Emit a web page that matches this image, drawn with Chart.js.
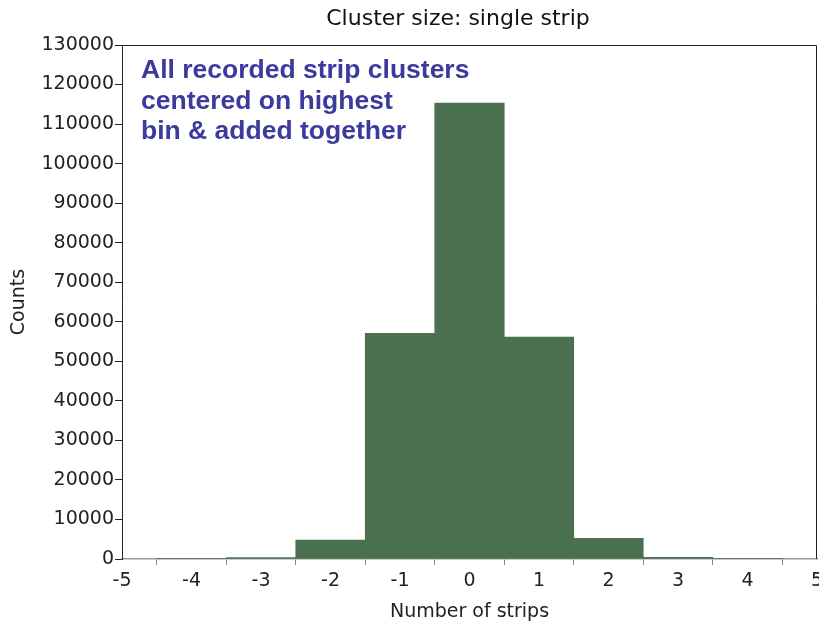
<!DOCTYPE html>
<html>
<head>
<meta charset="utf-8">
<script src="https://cdn.jsdelivr.net/npm/chart.js@4/dist/chart.umd.min.js"></script>
<style>
  html, body { margin: 0; padding: 0; background: #fff; }
  #wrap { width: 819px; height: 623px; }
</style>
</head>
<body>
<div id="wrap"><canvas id="hist"></canvas></div>
<script>
// Data
const binCenters = [-4, -3, -2, -1, 0, 1, 2, 3, 4];
const counts = [60, 350, 4800, 57100, 115300, 56100, 5200, 450, 80];
const yTicks = [0, 10000, 20000, 30000, 40000, 50000, 60000, 70000, 80000, 90000, 100000, 110000, 120000, 130000];
const xTicks = [-5, -4, -3, -2, -1, 0, 1, 2, 3, 4, 5];
const noteLines = ['All recorded strip clusters', 'centered on highest', 'bin & added together'];

const fontName = "'DejaVu Sans', sans-serif";
const barColor = '#4b7050';

// title, frame and note text
const extras = {
    id: 'extras',
    afterDraw(chart) {
        const ctx = chart.ctx;
        const a = chart.chartArea;
        ctx.save();
        ctx.fillStyle = '#111';
        ctx.font = '22px ' + fontName;
        ctx.textAlign = 'center';
        ctx.textBaseline = 'middle';
        ctx.fillText('Cluster size: single strip', 458, 19);

        ctx.strokeStyle = '#222';
        ctx.lineWidth = 1;
        ctx.beginPath();
        ctx.moveTo(a.left, a.top + 0.5);
        ctx.lineTo(a.right - 0.5, a.top + 0.5);
        ctx.lineTo(a.right - 0.5, a.bottom);
        ctx.stroke();

        ctx.fillStyle = '#3b3b9e';
        ctx.font = 'bold 26.5px "Liberation Sans", Arial, sans-serif';
        ctx.textAlign = 'left';
        noteLines.forEach((t, i) => {
            ctx.fillText(t, a.left + 19, a.top + 26 + i * 30.5);
        });
        ctx.restore();
    }
};

new Chart(document.getElementById('hist'), {
    type: 'bar',
    data: {
        datasets: [{
            data: binCenters.map((c, i) => ({ x: c, y: counts[i] })),
            backgroundColor: barColor,
            borderWidth: 0,
            barPercentage: 1,
            categoryPercentage: 1
        }]
    },
    options: {
        responsive: true,
        maintainAspectRatio: false,
        animation: false,
        layout: { padding: { top: 45, right: 2, left: 0, bottom: 0 } },
        plugins: {
            legend: { display: false },
            tooltip: { enabled: false }
        },
        scales: {
            x: {
                type: 'linear',
                min: -5,
                max: 5,
                offset: false,
                afterBuildTicks: s => { s.ticks = xTicks.map(v => ({ value: v })); },
                afterFit: s => { s.height = 64; s.paddingRight = 0; s.paddingLeft = 0; },
                grid: { drawOnChartArea: false, tickLength: 6, color: '#888' },
                border: { color: '#999', width: 1.5 },
                ticks: { color: '#222', font: { family: fontName, size: 19 }, padding: 5, maxRotation: 0 },
                title: { display: true, text: 'Number of strips', color: '#222', font: { family: fontName, size: 19 }, padding: { top: 0, bottom: 0 } }
            },
            y: {
                min: 0,
                max: 130000,
                afterBuildTicks: s => { s.ticks = yTicks.map(v => ({ value: v })); },
                afterFit: s => { s.width = 122; s.paddingTop = 0; s.paddingBottom = 0; },
                grid: { drawOnChartArea: false, tickLength: 7, color: '#222' },
                border: { color: '#222', width: 1 },
                ticks: { color: '#222', font: { family: fontName, size: 19 }, padding: 1, callback: v => String(v) },
                title: { display: true, text: 'Counts', color: '#222', font: { family: fontName, size: 19 }, padding: { top: 8, bottom: 0 } }
            }
        }
    },
    plugins: [extras]
});
</script>
</body>
</html>
